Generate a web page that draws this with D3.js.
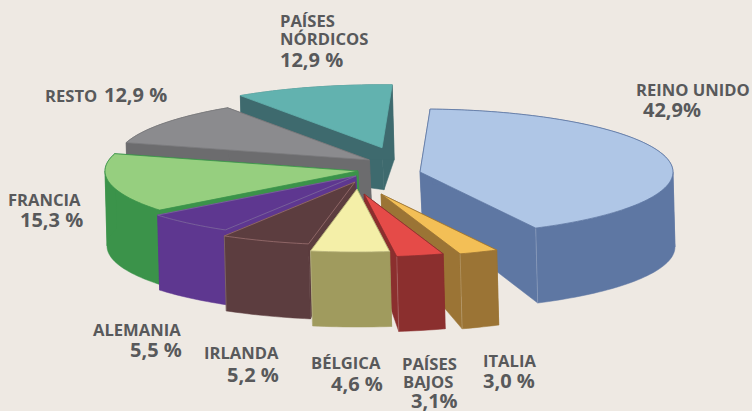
<!DOCTYPE html>
<html>
  <head>
    <title>Reparto por destino</title>
    <meta charset="utf-8">
    <script src="https://d3js.org/d3.v7.min.js"></script>
    <style>
      html, body { margin: 0; padding: 0; background: #eee9e3; }
      svg { display: block; }
      text { font-family: "Open Sans", sans-serif; font-weight: 700; fill: #58595b; }
    </style>
  </head>
  <body>
    <div id="vis"></div>
    <script>
      var categories = ["REINO UNIDO", "ITALIA", "PAÍSES BAJOS", "BÉLGICA", "IRLANDA", "ALEMANIA", "FRANCIA", "RESTO", "PAÍSES NÓRDICOS"];
      var printedValues = ["42,9%", "3,0 %", "3,1%", "4,6 %", "5,2 %", "5,5 %", "15,3 %", "12,9 %", "12,9 %"];
      // the printed figures add up to 105.4, and the slices were not drawn to them:
      // these are the shares measured from the slices in the picture
      var drawnShares = [41.8, 2.5, 3.0, 5.0, 5.7, 5.7, 15.1, 11.1, 10.1];

      var width = 752;
      var height = 411;
      var rimDepth = 75;
      var apexDepth = 42;
      var lowShift = 2;
      var nameSize = 16.6;
      var valueSize = 20;

      var topColors = ["#afc6e6", "#f3bf56", "#e54b48", "#f4efa8", "#5c3d3f", "#5e3790", "#96cf7f", "#8b8b8e", "#62b2af"];
      var wallColors = ["#5e77a3", "#9b7435", "#8b2f2e", "#a09b5e", "#5c3d3f", "#5e3790", "#3b934a", "#6c6c6e", "#3e6a6e"];
      var edgeColors = ["#5e77a3", "#9b7435", "#8b2f2e", "#b5b07a", "#9a7070", "#7d6a9c", "#3b934a", "#7a7a7c", "#62b2af"];
      // how far each slice was pulled out, in pie radii
      var pull = [[0.245, -0.095], [0.091, 0.254], [0.024, 0.254], [-0.004, 0.175], [-0.012, 0.063],
                  [-0.008, -0.032], [0, -0.111], [0.045, -0.286], [0.095, -0.48]];
      // back to front
      var drawOrder = [8, 0, 7, 6, 5, 4, 1, 2, 3];

      // one entry per category: the lines of its label, then where they sit
      var nameLines = [["REINO UNIDO"], ["ITALIA"], ["PAÍSES", "BAJOS"], ["BÉLGICA"], ["IRLANDA"], ["ALEMANIA"], ["FRANCIA"], ["RESTO"], ["PAÍSES", "NÓRDICOS"]];
      var namePos = [[[636, 96]], [[483, 367]], [[402, 370], [403, 388]], [[311, 369]], [[204, 359]], [[93, 336]], [[8, 206]], [[45, 102]], [[280, 27], [280, 45]]];
      var valuePos = [[643, 117], [483, 388], [411, 408], [331, 391], [227, 382], [130, 357], [20, 227], [104, 102], [280, 67]];

      var xPie = d3.scaleLinear().domain([-1, 1]).range([105, 611]);
      var yPie = d3.scaleLinear().domain([-1, 1]).range([115, 241]);
      var depth = d3.scaleLinear().domain([0, 1]).range([apexDepth, rimDepth]);

      var svg = d3.select("#vis").append("svg")
                  .attr("width", width)
                  .attr("height", height);

      var slices = d3.pie()
                     .sort(null)
                     .startAngle(2.3 * Math.PI / 180)
                     .endAngle((360 + 2.3) * Math.PI / 180)(drawnShares);

      var line = d3.line()
                   .x(function(p) { return p[0]; })
                   .y(function(p) { return p[1]; });

      // r is 0 at the apex and 1 on the rim, low says top or bottom face
      var project = function(i, angle, r, low) {
        var u = pull[i][0] + r * Math.sin(angle);
        var v = pull[i][1] - r * Math.cos(angle);
        return [xPie(u) + (low ? lowShift : 0), yPie(v) + (low ? depth(r) : 0)];
      };

      var rimPoints = function(i, a0, a1, low) {
        var n = Math.max(2, Math.ceil((a1 - a0) * 40));
        return d3.range(n + 1).map(function(k) {
          return project(i, a0 + (a1 - a0) * k / n, 1, low);
        });
      };

      // the rim band folds over at the left and right ends of the ellipse,
      // one polygon across the fold leaves a hole, so it is cut there
      var rimPieces = function(d) {
        var folds = [0.5, 1.5, 2.5].map(function(f) { return f * Math.PI; })
                                   .filter(function(a) { return a > d.startAngle && a < d.endAngle; });
        return d3.pairs([d.startAngle].concat(folds, [d.endAngle]));
      };

      drawOrder.forEach(function(i) {
        var d = slices[i];
        var g = svg.append("g").attr("class", "slice");
        var topRim = rimPoints(i, d.startAngle, d.endAngle, false);
        var lowRim = rimPoints(i, d.startAngle, d.endAngle, true);
        var apex = project(i, 0, 0, false);
        var apexLow = project(i, 0, 0, true);
        var last = topRim.length - 1;

        var wall = function(points) {
          g.append("path")
           .attr("d", line(points) + "Z")
           .attr("fill", wallColors[i])
           .attr("stroke", wallColors[i])
           .attr("stroke-width", 0.5);
        };
        wall([apex, topRim[0], lowRim[0], apexLow]);
        wall([apex, topRim[last], lowRim[last], apexLow]);
        rimPieces(d).forEach(function(p) {
          wall(rimPoints(i, p[0], p[1], false).concat(rimPoints(i, p[0], p[1], true).reverse()));
        });

        // faint highlight where the cut face meets the rim, front slices only
        if (d.endAngle < 3.8) {
          g.append("path")
           .attr("d", line([topRim[last], lowRim[last]]))
           .attr("stroke", "#ffffff")
           .attr("stroke-opacity", 0.2)
           .attr("stroke-width", 1)
           .attr("fill", "none");
        }

        g.append("path")
         .attr("d", line([apex].concat(topRim)) + "Z")
         .attr("fill", topColors[i])
         .attr("stroke", edgeColors[i])
         .attr("stroke-width", 0.8)
         .attr("stroke-linejoin", "round");
      });

      categories.forEach(function(c, i) {
        nameLines[i].forEach(function(l, k) {
          svg.append("text")
             .attr("x", namePos[i][k][0])
             .attr("y", namePos[i][k][1])
             .attr("font-size", nameSize)
             .text(l);
        });
        svg.append("text")
           .attr("x", valuePos[i][0])
           .attr("y", valuePos[i][1])
           .attr("font-size", valueSize)
           .text(printedValues[i]);
      });
    </script>
  </body>
</html>
